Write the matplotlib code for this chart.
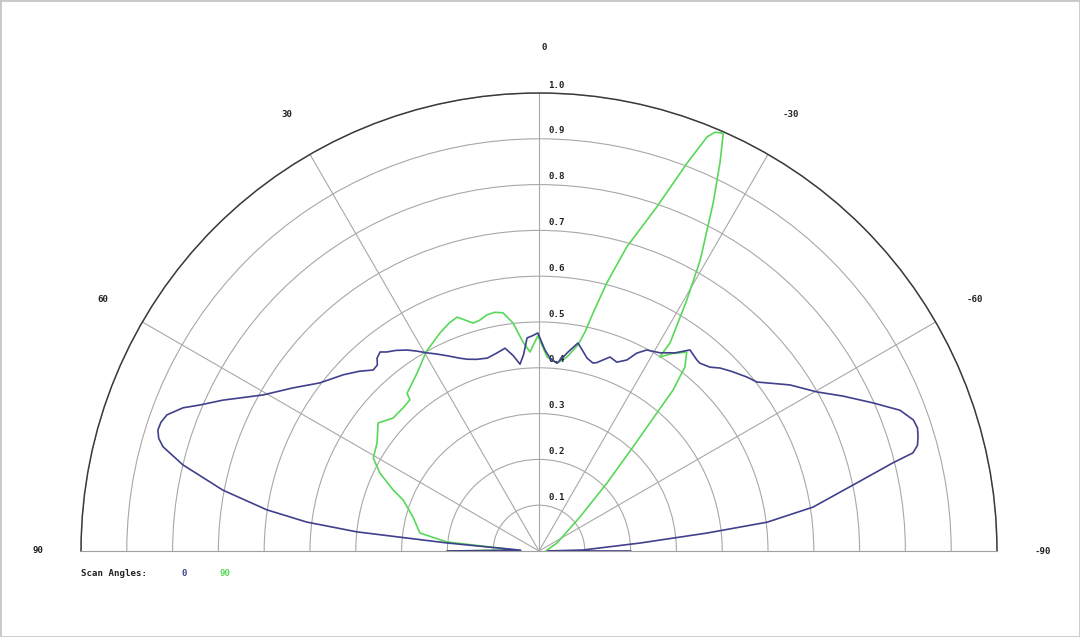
import numpy as np
import matplotlib
matplotlib.use("Agg")
import matplotlib.pyplot as plt
from matplotlib.patches import Rectangle

# ---------------- data ----------------
blue_theta = [-90, -89.6, -88.7, -85.5, -83.9, -82.8, -80.9, -77.9, -76.0, -75.3,
              -74.4, -73.3, -72.0, -70.7, -68.7, -66.1, -63.0, -60.2, -56.5, -52.2,
              -50.1, -47.0, -44.7, -42.9, -40.6, -39.6, -36.9, -34.5, -31.4, -28.2,
              -26.3, -24.7, -22.4, -20.1, -17.0, -16.0, -14.0, -12.0, -10.6, -8.3,
              -5.5, -3.5, -1.7, 0.3, 1.8, 3.2, 4.5, 5.8, 7.5, 9.5,
              12.0, 15.0, 18.0, 20.5, 22.3, 25.0, 27.5, 29.5, 31.5, 33.3,
              35.5, 37.4, 38.6, 40.0, 41.0, 42.5, 45.0, 48.0, 52.5, 56.5,
              60.5, 64.5, 66.7, 68.1, 69.9, 71.2, 72.4, 73.5, 74.5, 76.4,
              79.1, 81.4, 82.9, 84.0, 85.0, 87.5, 90]
blue_r = [0.20, 0.02, 0.096, 0.221, 0.369, 0.502, 0.606, 0.710, 0.797, 0.844,
          0.858, 0.864, 0.869, 0.866, 0.846, 0.798, 0.745, 0.699, 0.657, 0.602,
          0.592, 0.575, 0.562, 0.548, 0.540, 0.541, 0.549, 0.525, 0.507, 0.498,
          0.482, 0.459, 0.446, 0.451, 0.430, 0.427, 0.434, 0.450, 0.462, 0.439,
          0.412, 0.420, 0.439, 0.476, 0.470, 0.466, 0.430, 0.410, 0.430, 0.449,
          0.442, 0.436, 0.440, 0.447, 0.455, 0.470, 0.485, 0.497, 0.512, 0.525,
          0.538, 0.547, 0.556, 0.550, 0.538, 0.536, 0.555, 0.575, 0.603, 0.645,
          0.692, 0.765, 0.806, 0.838, 0.865, 0.872, 0.873, 0.866, 0.852, 0.800,
          0.703, 0.601, 0.511, 0.400, 0.202, 0.040, 0.20]

green_theta = [-89.5, -66.0, -50.3, -45.0, -42.1, -40.5, -39.8, -38.4, -36.6, -34.0,
               -31.9, -32.2, -30.5, -29.0, -26.6, -25.0, -23.8, -22.8, -22.1, -20.9,
               -18.9, -16.1, -14.2, -12.8, -11.9, -10.7, -8.2, -5.5, -2.4, 0.3,
               2.6, 4.4, 6.5, 8.6, 10.5, 12.4, 14.5, 16.1, 19.3, 21.5,
               24.4, 29.5, 34.4, 39.9, 40.5, 43.6, 47.7, 51.5, 56.3, 60.7,
               63.9, 67.3, 69.4, 74.9, 81.4, 84.4, 87.5, 90]
green_r = [0.015, 0.043, 0.116, 0.210, 0.306, 0.396, 0.457, 0.513, 0.541, 0.520,
           0.499, 0.537, 0.636, 0.726, 0.849, 0.935, 0.997, 0.992, 0.976, 0.907,
           0.794, 0.691, 0.604, 0.533, 0.490, 0.458, 0.428, 0.412, 0.424, 0.470,
           0.435, 0.458, 0.501, 0.526, 0.530, 0.528, 0.520, 0.518, 0.541, 0.535,
           0.523, 0.500, 0.471, 0.449, 0.434, 0.431, 0.431, 0.449, 0.425, 0.415,
           0.387, 0.345, 0.317, 0.285, 0.263, 0.202, 0.050, 0.20]

radial_ticks = [0.1, 0.2, 0.3, 0.4, 0.5, 0.6, 0.7, 0.8, 0.9, 1.0]
radial_labels = ["0.1", "0.2", "0.3", "0.4", "0.5", "0.6", "0.7", "0.8", "0.9", "1.0"]
angle_ticks = [90, 60, 30, 0, -30, -60, -90]
angle_labels = ["90", "60", "30", "0", "-30", "-60", "-90"]
legend_title = "Scan Angles:"
series_names = ["0", "90"]

# ---------------- figure ----------------
W, H = 1080, 637
fig = plt.figure(figsize=(W / 100, H / 100), dpi=100)
fig.patch.set_facecolor("white")

# polar centre (pixels from top-left) and outer radius in pixels
cx, cy, R = 539, 551, 458
S = 2 * R                      # square axes box; half-disc is centred in it
box_center_y = cy - R / 2      # from top
left = (cx - R) / W
bottom = (H - (box_center_y + S / 2)) / H
ax = fig.add_axes([left, bottom, S / W, S / H], projection="polar")
ax.set_theta_zero_location("N")
ax.set_theta_direction(1)
ax.set_thetamin(-90)
ax.set_thetamax(90)
ax.set_ylim(0, 1.0)

ax.set_rgrids(radial_ticks, labels=[""] * len(radial_ticks))
ax.set_thetagrids([-60, -30, 0, 30, 60], labels=[""] * 5)
ax.grid(True, color="#a8a8a8", linewidth=0.8)
ax.spines["polar"].set_color("#3a3a3a")
ax.spines["polar"].set_linewidth(1.1)
for s in ("start", "end"):
    ax.spines[s].set_color("#a0a0a0")
    ax.spines[s].set_linewidth(0.8)
ax.spines["inner"].set_visible(False)
ax.tick_params(length=0)

BLUE = "#40408c"
GREEN = "#58d858"
ax.plot(np.deg2rad(green_theta), green_r, color=GREEN, linewidth=1.2, zorder=3)
ax.plot(np.deg2rad(blue_theta), blue_r, color=BLUE, linewidth=1.2, zorder=4)

font = dict(family="DejaVu Sans Mono", fontsize=6.6, color="#222222", weight="bold")

for v, lab in zip(radial_ticks, radial_labels):
    ax.annotate(lab, xy=(0, v), xytext=(6.5, 2.5), textcoords="offset points",
                ha="left", va="bottom", **font)

for a, lab in zip(angle_ticks, angle_labels):
    dx = 4 if a == 0 else (2 if a == 90 else 0)
    ax.annotate(lab, xy=(np.deg2rad(a), 1.10), xytext=(dx, 0), textcoords="offset points",
                ha="center", va="center", annotation_clip=False, **font)

fig.text(81 / W, 1 - 573 / H, legend_title, ha="left", va="center", **font)
f2 = dict(font)
f2["color"] = BLUE
fig.text(182 / W, 1 - 573 / H, series_names[0], ha="left", va="center", **f2)
f2["color"] = GREEN
fig.text(220 / W, 1 - 573 / H, series_names[1], ha="left", va="center", **f2)

fig.patches.append(Rectangle((0, 0), 1, 1, transform=fig.transFigure, fill=False,
                             edgecolor="#c8c8c8", linewidth=2))

fig.savefig("out.png", dpi=100)
